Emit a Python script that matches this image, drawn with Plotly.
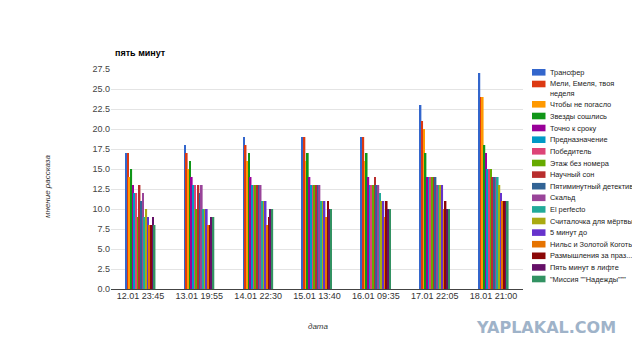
import plotly.graph_objects as go

dates = ["12.01 23:45", "13.01 19:55", "14.01 22:30", "15.01 13:40",
         "16.01 09:35", "17.01 22:05", "18.01 21:00"]

series_names = ["Трансфер", "Мели, Емеля, твоя неделя", "Чтобы не погасло",
                "Звезды сошлись", "Точно к сроку", "Предназначение", "Победитель",
                "Этаж без номера", "Научный сон", "Пятиминутный детектив", "Скальд",
                "El perfecto", "Считалочка для мёртвых", "5 минут до",
                "Нильс и Золотой Коготь", "Размышления за праз...",
                "Пять минут в лифте", "\"Миссия \"\"Надежды\"\"\""]

legend_labels = ["Трансфер", "Мели, Емеля, твоя<br>неделя", "Чтобы не погасло",
                 "Звезды сошлись", "Точно к сроку", "Предназначение", "Победитель",
                 "Этаж без номера", "Научный сон", "Пятиминутный детектив", "Скальд",
                 "El perfecto", "Считалочка для мёртвых", "5 минут до",
                 "Нильс и Золотой Коготь", "Размышления за праз...",
                 "Пять минут в лифте", "\"Миссия \"\"Надежды\"\"\""]

colors = ["#3366cc", "#dc3912", "#ff9900", "#109618", "#990099", "#0099c6",
          "#dd4477", "#66aa00", "#b82e2e", "#316395", "#994499", "#22aa99",
          "#aaaa11", "#6633cc", "#e67300", "#8b0707", "#651067", "#329262"]

v_12_01 = [17, 17, 14, 15, 13, 12, 12, 9, 13, 11, 12, 9, 10, 9, 8, 8, 9, 8]
v_13_01 = [18, 17, 15, 16, 14, 13, 13, 10, 13, 12, 13, 10, 10, 10, 8, 8, 9, 9]
v_14_01 = [19, 18, 16, 17, 14, 13, 13, 13, 13, 13, 13, 11, 11, 11, 8, 9, 10, 10]
v_15_01 = [19, 19, 16, 17, 14, 13, 13, 13, 13, 13, 13, 11, 11, 11, 9, 11, 10, 10]
v_16_01 = [19, 19, 16, 17, 14, 13, 13, 13, 14, 13, 13, 12, 11, 11, 9, 11, 10, 10]
v_17_01 = [23, 21, 20, 17, 14, 14, 14, 14, 14, 14, 13, 13, 13, 13, 10, 11, 10, 10]
v_18_01 = [27, 24, 24, 18, 17, 15, 15, 15, 14, 14, 14, 14, 13, 12, 11, 11, 11, 11]

by_date = [v_12_01, v_13_01, v_14_01, v_15_01, v_16_01, v_17_01, v_18_01]

y_ticks = [0, 2.5, 5, 7.5, 10, 12.5, 15, 17.5, 20, 22.5, 25, 27.5]

FONT = "Liberation Sans, Arial, sans-serif"

# page body has an 8px margin; work in reference pixel coordinates
OFF = 8
W, H = 640 - OFF, 358 - OFF
L, T = 111 - OFF, 69 - OFF
PW, PH = 412, 220
R = W - L - PW
B = H - T - PH

def px(x):
    return (x - OFF - L) / PW

def py(y):
    return (T + PH - (y - OFF)) / PH

fig = go.Figure()
for i, name in enumerate(series_names):
    fig.add_trace(go.Bar(
        x=dates, y=[g[i] for g in by_date], name=name,
        marker=dict(color=colors[i], line=dict(width=0)),
        showlegend=False,
    ))

shapes = []
annotations = []
ly = [72.3, 84, 104.3, 116, 128, 139.7, 151.3, 163, 174.6, 186.2, 197.8,
      209.4, 221, 232.6, 244.2, 255.8, 267.4, 279]
for i, lab in enumerate(legend_labels):
    y0 = ly[i]
    shapes.append(dict(type="rect", xref="paper", yref="paper",
                       x0=px(532), x1=px(545.5), y0=py(y0 + 3.3), y1=py(y0 - 3.3),
                       fillcolor=colors[i], line=dict(width=0), layer="above"))
    yy = y0 if "<br>" not in lab else y0 + 4.3
    annotations.append(dict(text=lab, xref="paper", yref="paper", x=px(548),
                            y=py(yy), xanchor="left", yanchor="middle",
                            showarrow=False, align="left",
                            font=dict(size=7.4, color="#222", family=FONT)))

annotations.append(dict(text="<i>мнение рассказа</i>", xref="paper", yref="paper",
                        x=px(47), y=py(187), textangle=-90, showarrow=False,
                        xanchor="center", yanchor="middle",
                        font=dict(size=8, color="#333", family=FONT)))
annotations.append(dict(text="<i>дата</i>", xref="paper", yref="paper",
                        x=px(318), y=py(326), showarrow=False,
                        xanchor="center", yanchor="middle",
                        font=dict(size=8, color="#333", family=FONT)))
annotations.append(dict(text="<b>пять минут</b>", xref="paper", yref="paper",
                        x=px(113), y=py(53), showarrow=False,
                        xanchor="left", yanchor="middle",
                        font=dict(size=9, color="#000", family=FONT)))
annotations.append(dict(text="<b>YAPLAKAL.COM</b>", xref="paper", yref="paper",
                        x=px(546), y=py(327), showarrow=False,
                        xanchor="center", yanchor="middle",
                        font=dict(size=16, color="#9fb3c9", family="DejaVu Sans, sans-serif")))

fig.update_layout(
    width=W, height=H,
    margin=dict(l=L, r=R, t=T, b=B),
    paper_bgcolor="white", plot_bgcolor="white",
    barmode="group", bargap=0.49, bargroupgap=0,
    font=dict(family=FONT, size=9, color="#222"),
    shapes=shapes, annotations=annotations,
    xaxis=dict(type="category", showgrid=False, showline=False, ticks="",
               tickfont=dict(size=9, color="#333"), zeroline=False),
    yaxis=dict(range=[0, 27.5], tickvals=y_ticks, tickformat=".1f",
               showgrid=True, gridcolor="#e4e4e4", gridwidth=1,
               zeroline=True, zerolinecolor="#444", zerolinewidth=1,
               showline=False, ticks="", tickfont=dict(size=9, color="#444")),
)

fig.write_html("out.html")
